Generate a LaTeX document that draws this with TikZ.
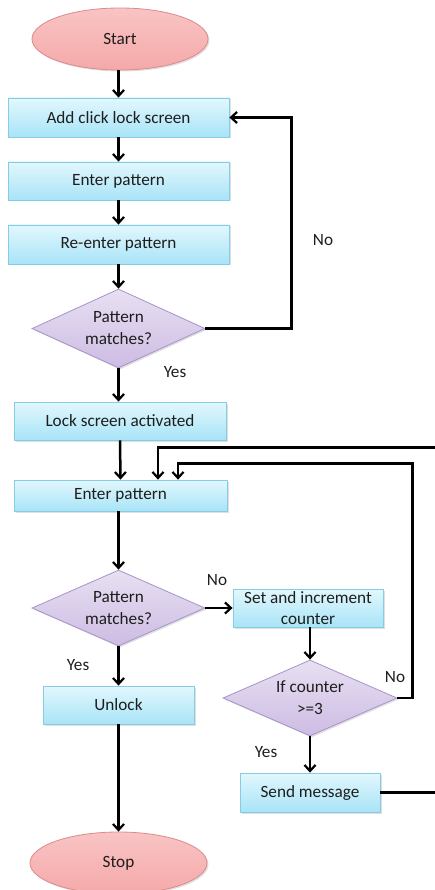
\documentclass[tikz,border=0pt]{standalone}
\usepackage{fontspec}
\setmainfont{Carlito}
\usetikzlibrary{shapes.geometric,arrows.meta,shadows,calc}
\definecolor{boxtop}{HTML}{E2F7FD}
\definecolor{boxbot}{HTML}{A8E4F7}
\definecolor{boxline}{HTML}{86CCE4}
\definecolor{dectop}{HTML}{E8E0F2}
\definecolor{decbot}{HTML}{CDBCE3}
\definecolor{decline}{HTML}{A693CC}
\definecolor{termtop}{HTML}{F9C4C4}
\definecolor{termbot}{HTML}{F5A9A9}
\definecolor{termline}{HTML}{DE8A8A}
\definecolor{txt}{HTML}{1E1E1E}
\begin{document}
\begin{tikzpicture}[x=1pt,y=-1pt,
  every node/.style={font=\fontsize{17.2}{22}\selectfont, text=txt},
  shad/.style={drop shadow={shadow xshift=1.5pt,shadow yshift=-1.5pt,opacity=0.25}},
  box/.style={rectangle, draw=boxline, line width=0.8pt, top color=boxtop, bottom color=boxbot, inner sep=0pt, align=center, shad},
  dec/.style={diamond, draw=decline, line width=0.8pt, top color=dectop, bottom color=decbot, inner sep=0pt, aspect=2.2, align=center, shad},
  term/.style={ellipse, draw=termline, line width=0.8pt, top color=termtop, bottom color=termbot, inner sep=0pt, shad},
  arr/.style={line width=2.5pt, black, -{Straight Barb[length=6pt,width=11pt,line width=2.2pt]}},
  lbl/.style={inner sep=0pt}
]
\useasboundingbox (0,0) rectangle (434,890);
\node[term, minimum width=176pt, minimum height=62pt] (start) at (120,39) {Start};
\node[box, minimum width=221pt, minimum height=39pt] (b1) at (118.5,117.5) {Add click lock screen};
\node[box, minimum width=221pt, minimum height=38pt] (b2) at (118.5,181) {Enter pattern};
\node[box, minimum width=221pt, minimum height=39pt] (b3) at (118.5,244.5) {Re-enter pattern};
\node[dec, minimum width=173pt, minimum height=79pt] (d1) at (118.5,328.5) {Pattern\\matches?};
\node[box, minimum width=212pt, minimum height=38pt] (b4) at (120,421) {Lock screen activated};
\node[box, minimum width=213pt, minimum height=31pt] (b5) at (120.5,495.5) {Enter pattern};
\node[dec, minimum width=173pt, minimum height=76pt] (d2) at (118.5,608) {Pattern\\matches?};
\node[box, minimum width=150pt, minimum height=38pt, font=\fontsize{17.2}{21}\selectfont] (b6) at (308,608) {Set and increment\\counter};
\node[dec, minimum width=174pt, minimum height=76pt] (d3) at (310,698) {If counter\\>=3};
\node[box, minimum width=151pt, minimum height=38pt] (unlock) at (118.5,705) {Unlock};
\node[box, minimum width=140pt, minimum height=39pt] (send) at (310,792.5) {Send message};
\node[term, minimum width=177pt, minimum height=62pt] (stop) at (118.5,863) {Stop};

\node[lbl] (no1) at (323,240) {No};
\node[lbl] (yes1) at (175,372) {Yes};
\node[lbl] (no2) at (217,580) {No};
\node[lbl] (yes2) at (78,665) {Yes};
\node[lbl] (no3) at (395,677) {No};
\node[lbl] (yes3) at (266,752) {Yes};

\coordinate (r1) at (440,447.5);
\coordinate (r2) at (412.5,463.5);

\draw[arr] (b1.north |- start.south) -- (b1.north);
\draw[arr] (b1.south) -- (b2.north);
\draw[arr] (b2.south) -- (b3.north);
\draw[arr] (b3.south) -- (d1.north);
\draw[arr] (d1.east) -- ++(86,0) |- (b1.east);
\draw[arr] (d1.south) -- (d1.south |- b4.north);
\draw[arr] (b4.south) -- (b5.north);
\draw[arr] (d2.north |- b5.south) -- (d2.north);
\draw[arr] (d2.east) -- (b6.west);
\draw[arr] (d3.north |- b6.south) -- (d3.north);
\draw[arr] (d3.east) -| (r2) -| ([xshift=57.5pt]b5.north);
\draw[arr] (send.east) -| (r1) -| ([xshift=37.5pt]b5.north);
\draw[arr] (d3.south) -- (send.north);
\draw[arr] (d2.south) -- (unlock.north);
\draw[arr] (unlock.south) -- (stop.north);
\end{tikzpicture}
\end{document}
